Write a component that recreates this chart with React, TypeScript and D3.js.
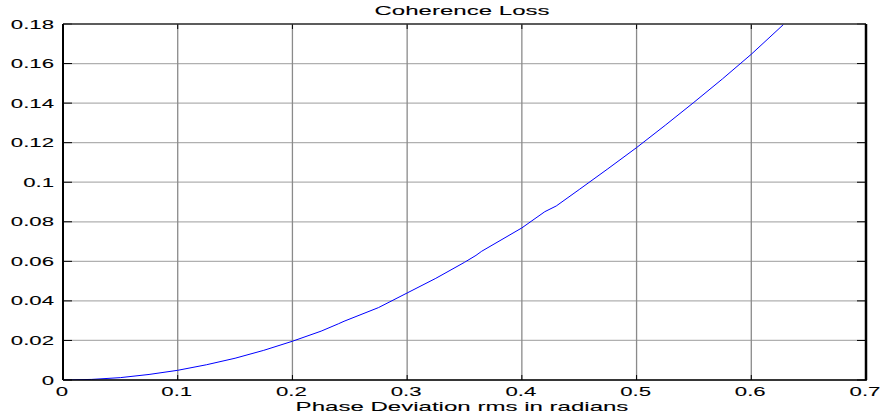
import React from "react";
import * as d3 from "d3";

const phaseRms = [0, 0.025, 0.05, 0.075, 0.1, 0.125, 0.15, 0.175, 0.2, 0.225, 0.24, 0.245, 0.275, 0.3, 0.325, 0.35, 0.36, 0.365, 0.4, 0.42, 0.43, 0.45, 0.475, 0.5, 0.525, 0.55, 0.575, 0.6, 0.628];
const coherenceLoss = [0, 0.0003, 0.0012, 0.0028, 0.0049, 0.0077, 0.011, 0.015, 0.0196, 0.0247, 0.0284, 0.0297, 0.0366, 0.044, 0.0514, 0.0595, 0.063, 0.0651, 0.0769, 0.0851, 0.088, 0.0963, 0.1068, 0.1175, 0.1288, 0.1404, 0.1523, 0.1647, 0.1797];
const xTicks = [0, 0.1, 0.2, 0.3, 0.4, 0.5, 0.6, 0.7];
const yTicks = [0, 0.02, 0.04, 0.06, 0.08, 0.1, 0.12, 0.14, 0.16, 0.18];
const titleText = "Coherence Loss";
const xLabelText = "Phase Deviation rms in radians";

const W = 883, H = 416;
const L = 63, R = 866, T = 24, B = 380;
const SX = 1.85;
const FONT = "'Liberation Sans', Arial, Helvetica, sans-serif";

function fmt(v: number) {
  return v === 0 ? "0" : String(+v.toFixed(2));
}

function SText({ x, y, size, anchor, children }: any) {
  return (
    <g transform={`translate(${x},${y}) scale(${SX},1)`}>
      <text x={0} y={0} fontSize={size} fontFamily={FONT} textAnchor={anchor} fill="#000" stroke="#000" strokeWidth={0.08}>
        {children}
      </text>
    </g>
  );
}

export default function App() {
  const x = d3.scaleLinear().domain([0, 0.7]).range([L, R]);
  const y = d3.scaleLinear().domain([0, 0.18]).range([B, T]);
  const line = d3
    .line<number>()
    .x((_, i) => x(phaseRms[i]))
    .y((d) => y(d));
  const path = line(coherenceLoss) || "";

  return (
    <svg width={W} height={H} style={{ position: "absolute", left: 0, top: 0, background: "#fff" }}>
      <rect x={0} y={0} width={W} height={H} fill="#fff" />
      {yTicks.map((t) => (
        <line key={"hg" + t} x1={L} x2={R} y1={y(t)} y2={y(t)} stroke="#b0b0b0" strokeWidth={1.2} />
      ))}
      {xTicks.map((t) => (
        <line key={"vg" + t} x1={x(t)} x2={x(t)} y1={T} y2={B} stroke="#8a8a8a" strokeWidth={1.3} />
      ))}
      <clipPath id="clip">
        <rect x={L} y={T} width={R - L} height={B - T} />
      </clipPath>
      <path d={path} fill="none" stroke="#0000ff" strokeWidth={1} clipPath="url(#clip)" />
      {yTicks.map((t) => (
        <g key={"yt" + t}>
          <line x1={L} x2={L + 9} y1={y(t)} y2={y(t)} stroke="#000" strokeWidth={1} />
          <line x1={R - 9} x2={R} y1={y(t)} y2={y(t)} stroke="#000" strokeWidth={1} />
        </g>
      ))}
      {xTicks.map((t) => (
        <g key={"xt" + t}>
          <line x1={x(t)} x2={x(t)} y1={B} y2={B - 5} stroke="#000" strokeWidth={1} />
          <line x1={x(t)} x2={x(t)} y1={T} y2={T + 5} stroke="#000" strokeWidth={1} />
        </g>
      ))}
      <line x1={L} x2={R} y1={T} y2={T} stroke="#333" strokeWidth={1.5} />
      <line x1={L} x2={R + 1} y1={B} y2={B} stroke="#000" strokeWidth={1.5} />
      <line x1={L} x2={L} y1={T} y2={B} stroke="#000" strokeWidth={2} />
      <line x1={R} x2={R} y1={T} y2={B} stroke="#000" strokeWidth={2.5} />
      {yTicks.map((t) => (
        <SText key={"yl" + t} x={54} y={y(t) + 4.5} size={12} anchor="end">
          {fmt(t)}
        </SText>
      ))}
      {xTicks.map((t) => (
        <SText key={"xl" + t} x={x(t) - 1} y={395.5} size={12} anchor="middle">
          {fmt(t)}
        </SText>
      ))}
      <SText x={462} y={15} size={13} anchor="middle">
        {titleText}
      </SText>
      <SText x={462} y={410.5} size={13} anchor="middle">
        {xLabelText}
      </SText>
    </svg>
  );
}
